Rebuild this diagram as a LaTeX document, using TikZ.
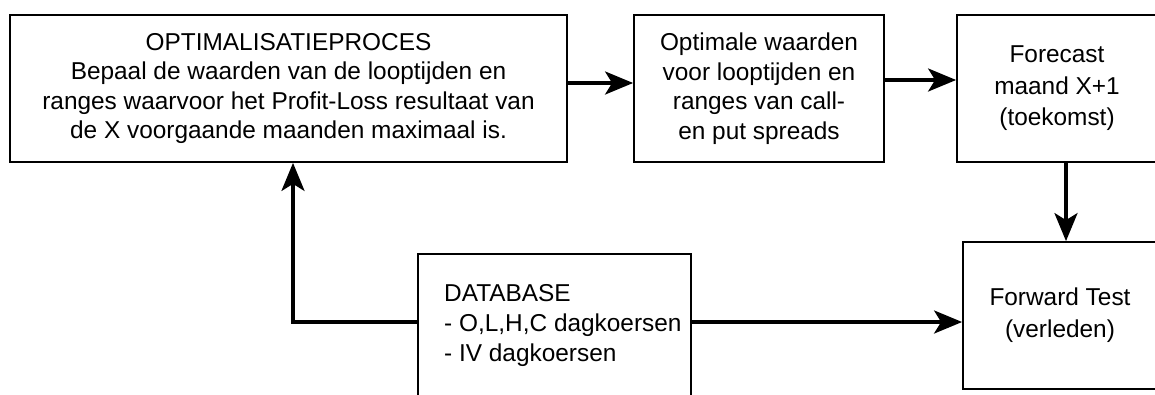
\documentclass[tikz,border=0pt]{standalone}
\usepackage{fontspec}
\setmainfont{Liberation Sans}
\usetikzlibrary{arrows.meta}
\begin{document}
\begin{tikzpicture}[x=1pt,y=-1pt,
  box/.style={draw=black, line width=1.8pt, rectangle, inner sep=0pt, align=center,
    font=\fontsize{24.4}{29.5}\selectfont},
  txt/.style={inner sep=0pt, align=left, font=\fontsize{24.4}{30}\selectfont},
  arr/.style={line width=3.5pt, -{Stealth[length=28pt,width=23pt,inset=7pt]}},
]
\useasboundingbox (0,0) rectangle (1155,394);
\clip (0,0) rectangle (1155,394);

% top row
\node[box, minimum width=557pt, minimum height=147pt] (opt) at (288.5,88.5)
  {OPTIMALISATIEPROCES\\Bepaal de waarden van de looptijden en\\ranges waarvoor het Profit-Loss resultaat van\\de X voorgaande maanden maximaal is.};
\node[box, minimum width=250pt, minimum height=147pt] (vals) at (759,88.5)
  {Optimale waarden\\voor looptijden en\\ranges van call-\\en put spreads};
\node[box, minimum width=200pt, minimum height=147pt, font=\fontsize{24.4}{31.5}\selectfont] (fc) at (1057,88.5)
  {Forecast\\maand X+1\\(toekomst)};

% bottom row
\node[box, minimum width=273pt, minimum height=144pt] (db) at (554.5,326) {};
\node[txt, anchor=west] (dbtxt) at (444,326)
  {DATABASE\\- O,L,H,C dagkoersen\\- IV dagkoersen};
\node[box, minimum width=194pt, minimum height=147pt, font=\fontsize{24.4}{32}\selectfont] (ft) at (1060,315.5)
  {Forward Test\\(verleden)};

% connectors
\coordinate (bend) at (293,322);
\draw[arr] ([yshift=5.5pt]opt.east) -- ([yshift=5.5pt]opt.east -| vals.west);
\draw[arr] ([yshift=8.5pt]vals.east) -- ([yshift=8.5pt]vals.east -| fc.west);
\draw[arr] ([xshift=9pt]fc.south) -- ([xshift=9pt]fc.south |- ft.north);
\draw[arr] ([yshift=4pt]db.east) -- ([yshift=4pt]db.east -| ft.west);
\draw[arr] ([yshift=4pt]db.west) -- (bend) -- (bend |- opt.south);
\end{tikzpicture}
\end{document}
